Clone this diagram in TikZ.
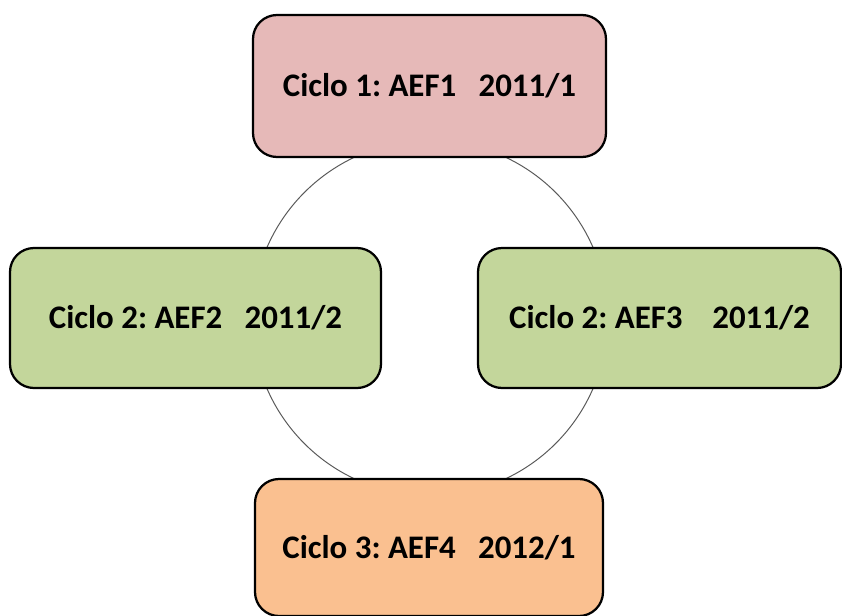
\documentclass[tikz,border=0pt]{standalone}
\usepackage{fontspec}
\setmainfont{Carlito}
\usetikzlibrary{positioning}

\begin{document}
\frenchspacing
\begin{tikzpicture}[nodebox/.style={draw=black,line width=1.6pt,rounded corners=0.6cm,align=center,font=\fontsize{23.4}{28}\selectfont\bfseries,minimum height=3.5cm},redbox/.style={nodebox,fill=ciclored},greenbox/.style={nodebox,fill=ciclogreen},orangebox/.style={nodebox,fill=cicloorange},ring/.style={draw=black!65,line width=0.7pt}]
\definecolor{ciclored}{HTML}{E6B9B8}\definecolor{ciclogreen}{HTML}{C3D69B}\definecolor{cicloorange}{HTML}{FAC090}
\useasboundingbox (-10.75,-7.425) rectangle (10.3,7.95);
\coordinate (centro) at (0,0);
\draw[ring] (centro) circle (4.44);
\node[redbox, minimum width=8.825cm, minimum height=3.55cm] (ciclo1) at (-0.0125,5.8) {Ciclo 1: AEF1\ \ \ 2011/1};
\node[greenbox, minimum width=9.275cm] (ciclo2a) at (-5.8625,0) {Ciclo 2: AEF2\ \ \ 2011/2};
\node[greenbox, minimum width=9.075cm] (ciclo2b) at (5.7375,0) {Ciclo 2: AEF3\ \ \ \ 2011/2};
\node[orangebox, minimum width=8.7cm, minimum height=3.425cm] (ciclo3) at (-0.025,-5.7375) {Ciclo 3: AEF4\ \ \ 2012/1};
\end{tikzpicture}
\end{document}
